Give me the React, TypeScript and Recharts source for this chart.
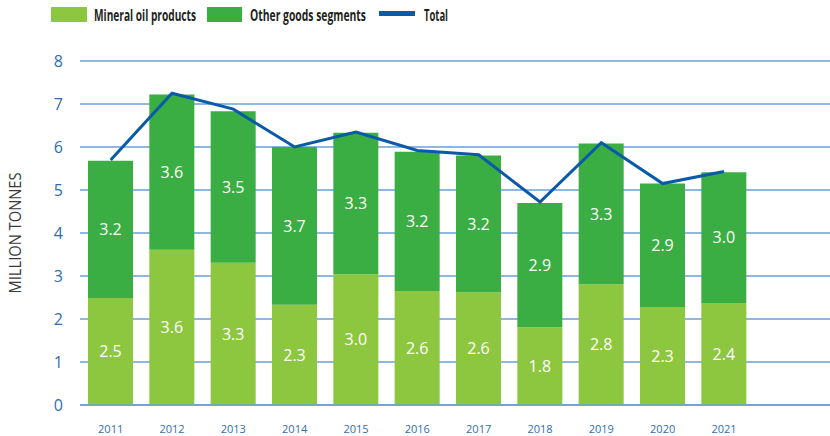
import React from 'react';
import { ComposedChart, Bar, Line, XAxis, YAxis, CartesianGrid, LabelList } from 'recharts';

const years = ['2011', '2012', '2013', '2014', '2015', '2016', '2017', '2018', '2019', '2020', '2021', ''];
const mineralOil = [2.49, 3.61, 3.31, 2.33, 3.04, 2.65, 2.62, 1.81, 2.81, 2.28, 2.37, null];
const otherGoods = [3.19, 3.61, 3.52, 3.67, 3.29, 3.24, 3.18, 2.89, 3.27, 2.87, 3.04, null];
const total = [5.7, 7.25, 6.88, 6.0, 6.35, 5.92, 5.82, 4.72, 6.1, 5.15, 5.43, null];
const yTicks = [0, 1, 2, 3, 4, 5, 6, 7, 8];

const data = years.map((y, i) => ({
  year: y,
  mineral: mineralOil[i],
  other: otherGoods[i],
  total: total[i],
}));

const C_MINERAL = '#8dc63f';
const C_OTHER = '#3aae42';
const C_TOTAL = '#0a5aa8';
const C_GRID = '#6a9fd8';
const C_TICK = '#2f6db5';
const FONT = "'Open Sans', sans-serif";

const fmt = (v: any) => (v == null ? '' : Number(v).toFixed(1));

const LegendText = ({ x, w, children }: { x: number; w: number; children: string }) => (
  <g transform={`translate(${x}, 21) scale(1, 1.45)`}>
    <text x={0} y={0} fontFamily={FONT} fontWeight={700} fontSize={11} fill="#231f20" textLength={w} lengthAdjust="spacingAndGlyphs">
      {children}
    </text>
  </g>
);

const LegendBlock = () => (
  <svg width={830} height={32} style={{ position: 'absolute', left: 0, top: 0, display: 'block' }}>
    <rect x={51} y={7} width={36} height={15} fill={C_MINERAL} />
    <LegendText x={94} w={102}>Mineral oil products</LegendText>
    <rect x={207} y={7} width={35} height={15} fill={C_OTHER} />
    <LegendText x={250} w={116}>Other goods segments</LegendText>
    <rect x={379} y={11} width={36} height={5} fill={C_TOTAL} />
    <LegendText x={424} w={24}>Total</LegendText>
  </svg>
);

const YLabel = (props: any) => {
  const vb = props.viewBox || {};
  const cy = (vb.y ?? 61) + (vb.height ?? 344) / 2;
  return (
    <text
      x={21}
      y={cy}
      transform={`rotate(-90, 21, ${cy})`}
      textAnchor="middle"
      fill="#3a3a3a"
      fontSize={16}
      fontFamily={FONT}
      textLength={121}
      lengthAdjust="spacingAndGlyphs"
    >
      MILLION TONNES
    </text>
  );
};

export default function App() {
  return (
    <div style={{ position: 'absolute', left: 0, top: 0, width: 830, height: 436, background: '#fff' }}>
      <ComposedChart
        width={830}
        height={436}
        data={data}
        margin={{ top: 61, right: 0, left: 0, bottom: 0 }}
        barCategoryGap={8}
      >
        <CartesianGrid vertical={false} stroke={C_GRID} strokeWidth={1.5} />
        <XAxis
          dataKey="year"
          height={31}
          padding={{ left: 0, right: 14 }}
          tickLine={false}
          axisLine={{ stroke: C_GRID, strokeWidth: 1.5 }}
          tickMargin={14}
          tick={{ fill: C_TICK, fontSize: 11, fontFamily: FONT }}
          interval={0}
        />
        <YAxis
          width={80}
          domain={[0, 8]}
          ticks={yTicks}
          tickLine={false}
          axisLine={false}
          tickSize={0}
          tickMargin={17}
          tick={{ fill: C_TICK, fontSize: 16, fontFamily: FONT }}
          label={{ value: 'MILLION TONNES', content: <YLabel /> }}
        />
        <Bar dataKey="mineral" stackId="a" fill={C_MINERAL} isAnimationActive={false} name="Mineral oil products">
          <LabelList dataKey="mineral" position="center" formatter={fmt} fill="#ffffff" fontSize={16} fontFamily={FONT} />
        </Bar>
        <Bar dataKey="other" stackId="a" fill={C_OTHER} isAnimationActive={false} name="Other goods segments">
          <LabelList dataKey="other" position="center" formatter={fmt} fill="#ffffff" fontSize={16} fontFamily={FONT} />
        </Bar>
        <Line
          dataKey="total"
          type="linear"
          stroke={C_TOTAL}
          strokeWidth={3}
          dot={false}
          activeDot={false}
          isAnimationActive={false}
          name="Total"
        />
      </ComposedChart>
      <LegendBlock />
    </div>
  );
}
